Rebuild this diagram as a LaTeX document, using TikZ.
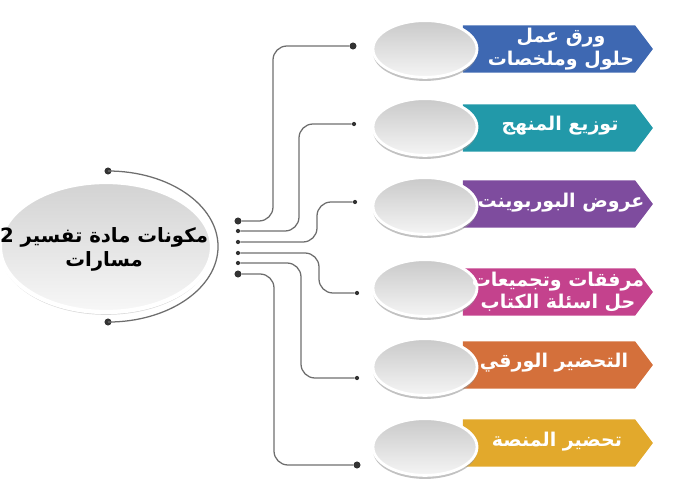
\documentclass[tikz,border=0pt]{standalone}
\usepackage{fontspec}
\usetikzlibrary{shapes.geometric,shapes.symbols,shadows}
\newfontfamily\arabicfont[Script=Arabic]{DejaVu Sans}
\TeXXeTstate=1
\newcommand\rtl[1]{\beginR #1\endR}

\definecolor{bannerblue}{HTML}{3E68B2}
\definecolor{bannerteal}{HTML}{2299A9}
\definecolor{bannerpurple}{HTML}{7E4C9E}
\definecolor{bannermagenta}{HTML}{C4428D}
\definecolor{bannerorange}{HTML}{D4703B}
\definecolor{bannergold}{HTML}{E2A92C}
\definecolor{linkgray}{HTML}{6E6E6E}

\tikzset{
  link/.style={draw=linkgray, line width=0.9pt, rounded corners=0.35cm},
  bigdot/.style={circle, fill=black!80, inner sep=0pt, minimum size=5pt},
  smalldot/.style={circle, fill=black!80, inner sep=0pt, minimum size=3pt},
  banner/.style={signal, signal to=east, signal pointer angle=106,
    minimum width=4.75cm, minimum height=1.18cm, inner sep=0pt},
  bannertext/.style={text=white, inner sep=0pt, align=center,
    font=\arabicfont\bfseries\fontsize{13.5}{16}\selectfont},
  disc/.style={ellipse, minimum width=2.6cm, minimum height=1.42cm,
    top color=gray!42, bottom color=gray!8, draw=white, line width=2pt,
    drop shadow={shadow xshift=0pt, shadow yshift=-2.5pt, fill=gray!80, opacity=0.6}},
  hubdisc/.style={ellipse, minimum width=5.3cm, minimum height=3.25cm, inner sep=0pt,
    top color=gray!35, bottom color=gray!6, draw=white, line width=3pt,
    drop shadow={shadow xshift=0pt, shadow yshift=-2pt, fill=gray!60, opacity=0.5}},
  hubtext/.style={font=\arabicfont\bfseries\fontsize{14}{17}\selectfont, align=center, inner sep=0pt},
}

\begin{document}
\begin{tikzpicture}[x=0.025cm, y=-0.025cm]
\useasboundingbox (0,0) rectangle (700,500);

% Drawing the hub
\node[hubdisc] (hub) at (106,247) {};
\node[hubtext] (hublabel) at (104,249) {\rtl{مكونات مادة تفسير 2}\\\rtl{مسارات}};
\node[bigdot] (htop) at (108,171) {};
\node[bigdot] (hbot) at (108,322) {};
\draw[linkgray, line width=0.9pt] (htop.center) arc[start angle=90, end angle=-90, x radius=2.75cm, y radius=1.8875cm];

% Drawing the banners
\node[banner, fill=bannerblue] (b1) at (549,49) {};
\node[banner, fill=bannerteal] (b2) at (549,128) {};
\node[banner, fill=bannerpurple] (b3) at (549,204) {};
\node[banner, fill=bannermagenta] (b4) at (549,292) {};
\node[banner, fill=bannerorange] (b5) at (549,365) {};
\node[banner, fill=bannergold] (b6) at (549,443) {};

% Drawing the discs
\node[disc] (d1) at (425,49) {};
\node[disc] (d2) at (425,127) {};
\node[disc] (d3) at (425,206) {};
\node[disc] (d4) at (425,288) {};
\node[disc] (d5) at (425,367) {};
\node[disc] (d6) at (425,447) {};

% Banner texts
\node[bannertext] (t1) at (561,49) {\rtl{ورق عمل}\\\rtl{حلول وملخصات}};
\node[bannertext] (t2) at (560,126) {\rtl{توزيع المنهج}};
\node[bannertext] (t3) at (561,203) {\rtl{عروض البوربوينت}};
\node[bannertext] (t4) at (558,292) {\rtl{مرفقات وتجميعات}\\\rtl{حل اسئلة الكتاب}};
\node[bannertext] (t5) at (554,363) {\rtl{التحضير الورقي}};
\node[bannertext] (t6) at (557,442) {\rtl{تحضير المنصة}};

% Marking the start points
\node[bigdot] (s1) at (238,221) {};
\node[smalldot] (s2) at (238,231) {};
\node[smalldot] (s3) at (238,242) {};
\node[smalldot] (s4) at (238,253) {};
\node[smalldot] (s5) at (238,263) {};
\node[bigdot] (s6) at (238,274) {};

% Marking the end points
\node[bigdot] (e1) at (353,46) {};
\node[smalldot] (e2) at (354,124) {};
\node[smalldot] (e3) at (355,202) {};
\node[smalldot] (e4) at (357,293) {};
\node[smalldot] (e5) at (357,378) {};
\node[bigdot] (e6) at (357,465) {};

% Bend points
\coordinate (v1) at (273,0);
\coordinate (v2) at (299,0);
\coordinate (v3) at (317,0);
\coordinate (v4) at (319,0);
\coordinate (v5) at (301,0);
\coordinate (v6) at (274,0);

% Drawing the connectors
\draw[link] (s1) -- (s1 -| v1) -- (v1 |- e1) -- (e1);
\draw[link] (s2) -- (s2 -| v2) -- (v2 |- e2) -- (e2);
\draw[link] (s3) -- (s3 -| v3) -- (v3 |- e3) -- (e3);
\draw[link] (s4) -- (s4 -| v4) -- (v4 |- e4) -- (e4);
\draw[link] (s5) -- (s5 -| v5) -- (v5 |- e5) -- (e5);
\draw[link] (s6) -- (s6 -| v6) -- (v6 |- e6) -- (e6);
\end{tikzpicture}
\end{document}
